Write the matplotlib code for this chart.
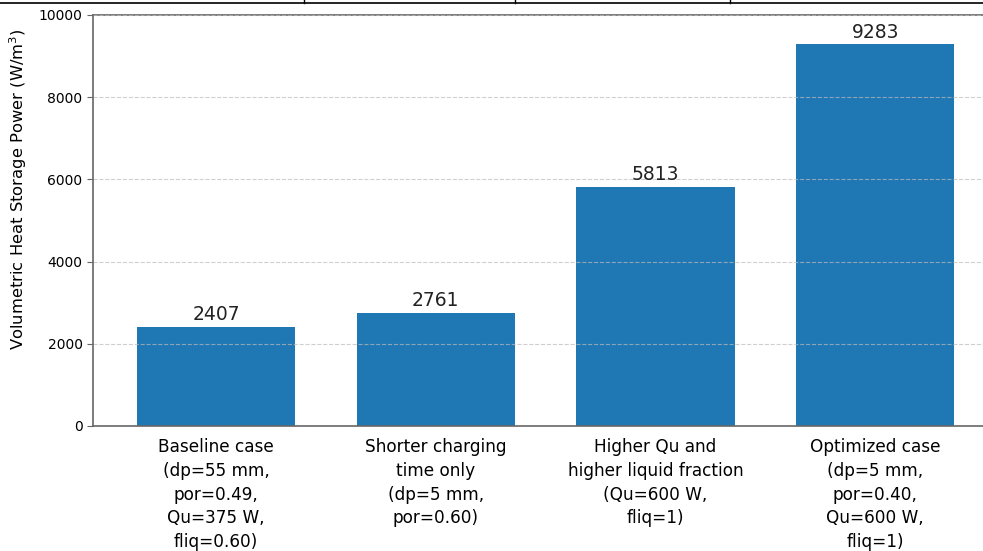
# -*- coding: utf-8 -*-
"""Volumetric heat storage power for four charging cases (bar chart)."""
import matplotlib as mpl; mpl.use("Agg")
import matplotlib.pyplot as plt
from matplotlib.lines import Line2D

BLUE  = "#1f77b4"
SPINE = "#666666"
GRID  = "#bbbbbb"

# ── data ──────────────────────────────────────────────────────────────────────
CASES = [
    "Baseline case\n(dp=55 mm,\npor=0.49,\nQu=375 W,\nfliq=0.60)",
    "Shorter charging\ntime only\n(dp=5 mm,\npor=0.60)",
    "Higher Qu and\nhigher liquid fraction\n(Qu=600 W,\nfliq=1)",
    "Optimized case\n(dp=5 mm,\npor=0.40,\nQu=600 W,\nfliq=1)",
]
POWER = [2407, 2761, 5813, 9283]
YTICKS = [0, 2000, 4000, 6000, 8000, 10000]

# ── figure ────────────────────────────────────────────────────────────────────
fig = plt.figure(figsize=(9.83, 5.51), dpi=100)
ax = fig.add_axes([0.0946, 0.2269, 0.921, 0.7459])

x = range(len(CASES))
bars = ax.bar(x, POWER, width=0.72, color=BLUE, zorder=2)
for b, v in zip(bars, POWER):
    ax.annotate(f"{v}", xy=(b.get_x() + b.get_width() / 2, v),
                xytext=(0, 2), textcoords="offset points",
                ha="center", va="bottom", fontsize=13.5, color="#222222")

ax.set_xlim(-0.56, 3.56)
ax.set_ylim(0, 10000)
ax.set_yticks(YTICKS)
ax.set_xticks(list(x))
ax.set_xticklabels(CASES, fontsize=12.2, linespacing=1.4)
ax.tick_params(axis="x", length=0, pad=9)
ax.tick_params(axis="y", labelsize=10, color=SPINE, length=4)
ax.set_ylabel("Volumetric Heat Storage Power (W/m$^3$)", fontsize=11.8)
ax.yaxis.set_label_coords(-0.071, 0.577)

ax.grid(axis="y", linestyle="--", color=GRID, alpha=0.7, lw=0.8, zorder=3)
ax.set_axisbelow(False)
for s in ax.spines.values():
    s.set_color(SPINE)
    s.set_linewidth(1.2)

# table-border remnant along the top of the image
fig.add_artist(Line2D([0, 1], [0.9946, 0.9946], color="black", lw=1.2,
                      transform=fig.transFigure))
for xf in (304 / 983, 515 / 983, 730 / 983):
    fig.add_artist(Line2D([xf, xf], [0.9946, 1.0], color="black", lw=1.0,
                          transform=fig.transFigure))

fig.savefig("out.png", dpi=100, facecolor="white")
